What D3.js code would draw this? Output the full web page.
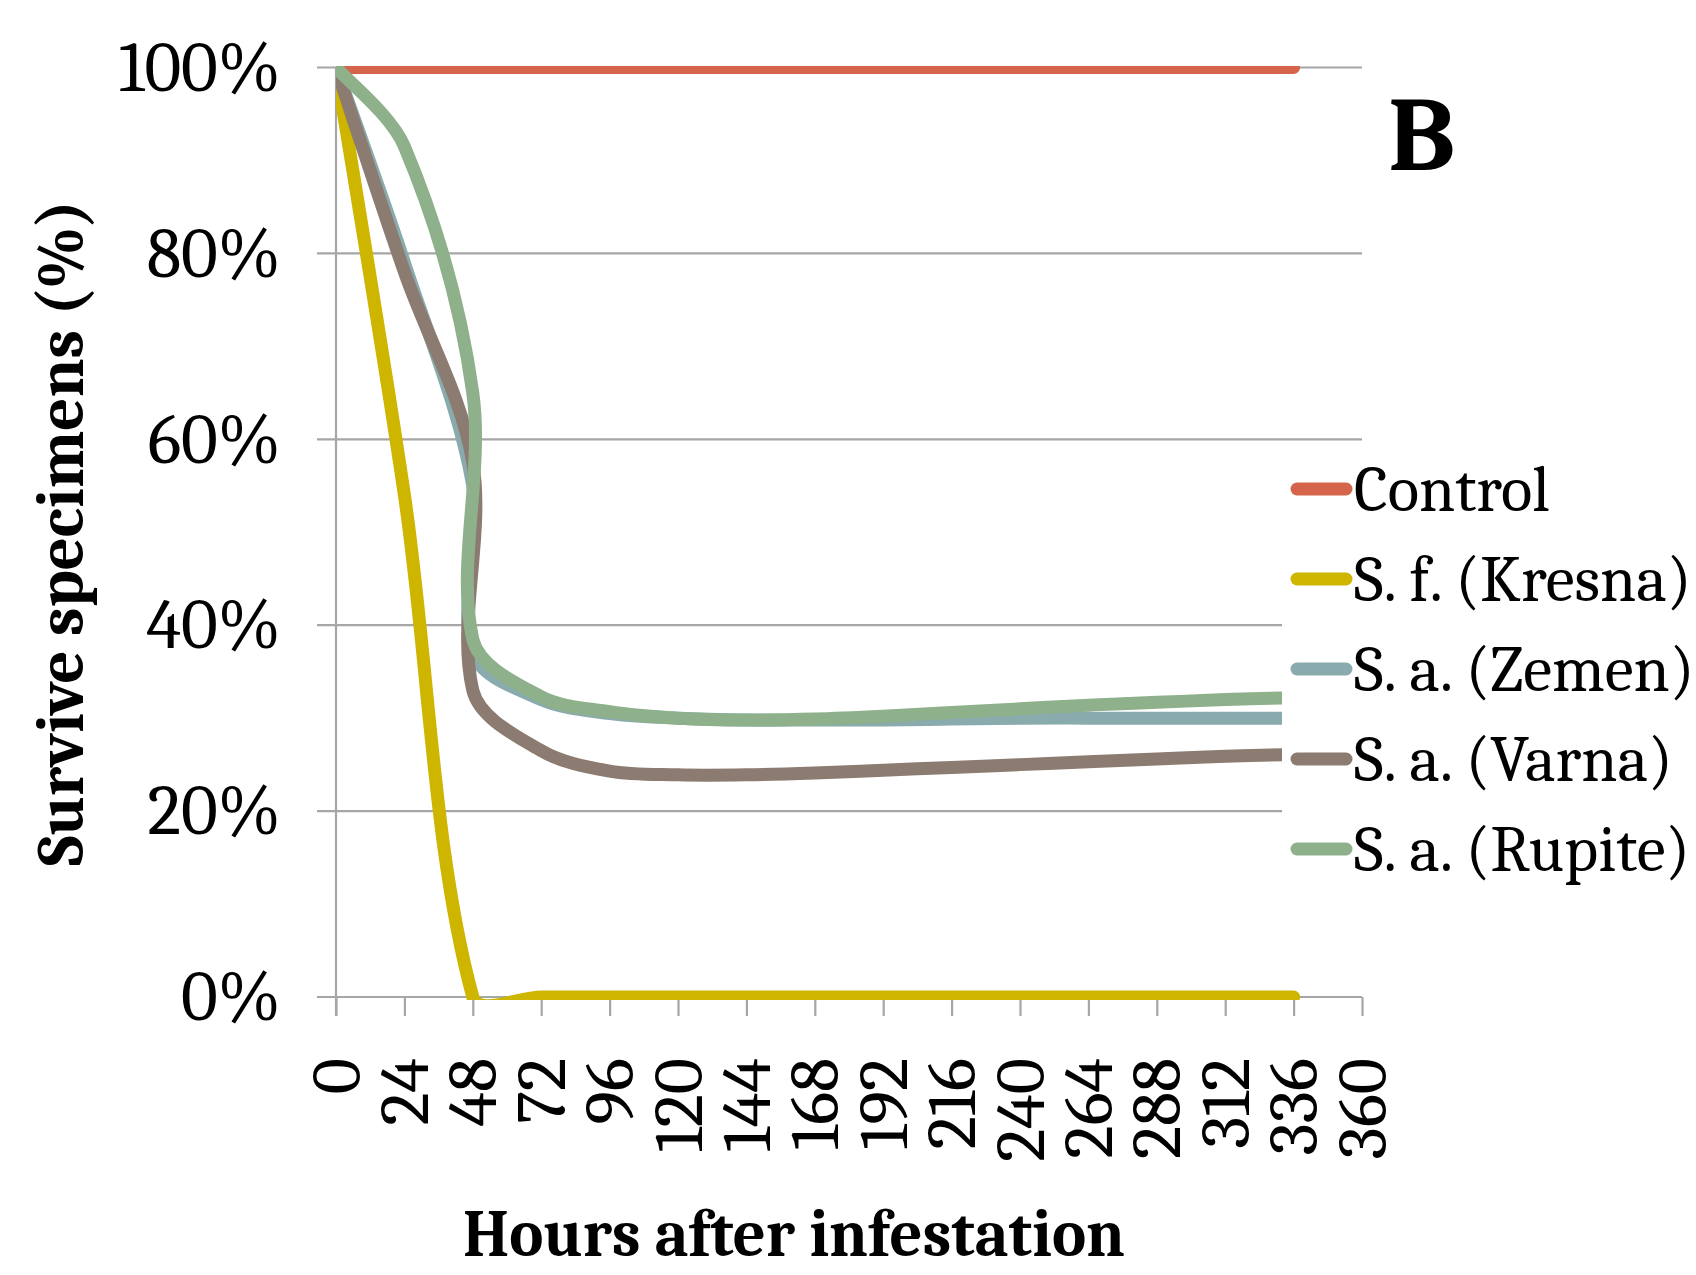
<!DOCTYPE html>
<html>
<head>
<meta charset="utf-8">
<script src="https://cdn.jsdelivr.net/npm/d3@7"></script>
<style>
  html, body { margin: 0; padding: 0; background: #fff; }
  svg { display: block; }
  text { font-family: Cambria, "Liberation Serif", "DejaVu Serif", serif; fill: #000; }
</style>
</head>
<body>
<div id="chart"></div>
<script>
// ------- data -------
const xTicks = [0, 24, 48, 72, 96, 120, 144, 168, 192, 216, 240, 264, 288, 312, 336, 360];
const yTicks = [0, 20, 40, 60, 80, 100];

const hours   = [0, 24, 48, 72, 96, 120, 144, 168, 192, 216, 240, 264, 288, 312, 336];
const control = [100, 100, 100, 100, 100, 100, 100, 100, 100, 100, 100, 100, 100, 100, 100];
const kresna  = [100, 54, 0, 0, 0, 0, 0, 0, 0, 0, 0, 0, 0, 0, 0];

// the S. a. series have two readings at 48 h
const hoursSa = [0, 24, 48, 48, 72, 96, 120, 144, 168, 192, 216, 240, 264, 288, 312, 336];
const zemen   = [100, 79, 55, 37, 32, 30.5, 30, 29.8, 29.8, 29.8, 29.9, 30, 30, 30, 30, 30];
const varna   = [100, 78, 57.5, 33, 26.5, 24.3, 23.9, 23.9, 24.1, 24.4, 24.7, 25.0, 25.3, 25.6, 25.9, 26.1];
const rupite  = [100, 91.5, 65, 38.5, 32.3, 30.7, 30.0, 29.8, 29.9, 30.2, 30.6, 31.0, 31.4, 31.7, 32.0, 32.2];

const seriesNames = ["Control", "S. f. (Kresna)", "S. a. (Zemen)", "S. a. (Varna)", "S. a. (Rupite)"];
const seriesColors = ["#d5654a", "#cdb500", "#8aabae", "#8c7b70", "#8eb08b"];

const series = [
  { name: seriesNames[0], xs: hours, ys: control, color: seriesColors[0] },
  { name: seriesNames[1], xs: hours, ys: kresna, color: seriesColors[1] },
  { name: seriesNames[2], xs: hoursSa, ys: zemen, color: seriesColors[2] },
  { name: seriesNames[3], xs: hoursSa, ys: varna, color: seriesColors[3] },
  { name: seriesNames[4], xs: hoursSa, ys: rupite, color: seriesColors[4] }
];

// ------- layout -------
const W = 1696, H = 1275;
const GRID = "#a6a6a6";

const x = d3.scaleLinear().domain([0, 360]).range([336, 1362]);
const y = d3.scaleLinear().domain([0, 100]).range([997, 67.5]);

const svg = d3.select("#chart").append("svg")
  .attr("width", W).attr("height", H)
  .attr("viewBox", `0 0 ${W} ${H}`);

svg.append("rect").attr("width", W).attr("height", H).attr("fill", "#fff");

// gridlines (incl. outward ticks on the left)
svg.append("g")
  .selectAll("line")
  .data(yTicks)
  .join("line")
  .attr("x1", x(0) - 19).attr("x2", x(360))
  .attr("y1", d => y(d)).attr("y2", d => y(d))
  .attr("stroke", GRID).attr("stroke-width", 2.2);

// y axis labels
svg.append("g")
  .attr("transform", `translate(${x(0)},0)`)
  .call(d3.axisLeft(y).tickValues(yTicks).tickFormat(d => d + "%").tickSize(0).tickPadding(55))
  .call(g => g.select(".domain").remove())
  .call(g => g.selectAll("text")
    .attr("font-family", null)
    .style("font-size", "71px")
    .attr("fill", "#000"));

// y axis line
svg.append("line")
  .attr("x1", x(0)).attr("x2", x(0))
  .attr("y1", y(100)).attr("y2", y(0) + 19)
  .attr("stroke", GRID).attr("stroke-width", 2.2);

// x axis ticks + rotated labels
svg.append("g")
  .attr("transform", `translate(0,${y(0)})`)
  .call(d3.axisBottom(x).tickValues(xTicks).tickSize(19).tickSizeOuter(0))
  .call(g => g.select(".domain").remove())
  .call(g => g.selectAll("line").attr("stroke", GRID).attr("stroke-width", 2.2))
  .call(g => g.selectAll("text")
    .attr("font-family", null)
    .style("font-size", "70px")
    .attr("fill", "#000")
    .attr("transform", "rotate(-90)")
    .attr("text-anchor", "end")
    .attr("x", -61)
    .attr("y", 0)
    .attr("dy", "0.33em"));

// ------- lines -------
svg.append("defs").append("clipPath").attr("id", "plotClip")
  .append("rect")
  .attr("x", x(0)).attr("y", 66)
  .attr("width", 1100).attr("height", 1000 - 66);

// smoothed line: bezier segments, tangents weighted by chord length
const dist = (a, b) => Math.hypot(b[0] - a[0], b[1] - a[1]);
const curveSmooth = (context) => {
  let pts = [];
  return {
    areaStart() {}, areaEnd() {},
    lineStart() { pts = []; },
    point(px, py) { pts.push([+px, +py]); },
    lineEnd() {
      const n = pts.length;
      if (!n) return;
      context.moveTo(pts[0][0], pts[0][1]);
      for (let i = 0; i < n - 1; i++) {
        const p0 = pts[Math.max(i - 1, 0)], p1 = pts[i], p2 = pts[i + 1], p3 = pts[Math.min(i + 2, n - 1)];
        const d01 = dist(p0, p1), d12 = dist(p1, p2), d23 = dist(p2, p3);
        const f1 = i === 0 ? 1 / 6 : (d01 + d12 ? d12 / (d01 + d12) / 3 : 0);
        const f2 = i + 2 > n - 1 ? 1 / 6 : (d12 + d23 ? d12 / (d12 + d23) / 3 : 0);
        context.bezierCurveTo(
          p1[0] + (p2[0] - p0[0]) * f1, p1[1] + (p2[1] - p0[1]) * f1,
          p2[0] - (p3[0] - p1[0]) * f2, p2[1] - (p3[1] - p1[1]) * f2,
          p2[0], p2[1]);
      }
    }
  };
};

const line = d3.line()
  .x(d => x(d[0]))
  .y(d => y(d[1]))
  .curve(curveSmooth);

const plot = svg.append("g").attr("clip-path", "url(#plotClip)");

series.forEach(s => {
  const pts = s.xs.map((h, i) => [h, s.ys[i]]);
  plot.append("path")
    .datum(pts)
    .attr("d", line)
    .attr("fill", "none")
    .attr("stroke", s.color)
    .attr("stroke-width", 13)
    .attr("stroke-linecap", "round")
    .attr("stroke-linejoin", "round");
});

// ------- legend (sits over the plot area) -------
const legend = svg.append("g");
legend.append("rect")
  .attr("x", 1282).attr("y", 446)
  .attr("width", W - 1282).attr("height", 446)
  .attr("fill", "#fff");

const legY = d3.scalePoint().domain(seriesNames).range([489, 849]);

const item = legend.selectAll("g.item")
  .data(series)
  .join("g")
  .attr("class", "item")
  .attr("transform", d => `translate(0,${legY(d.name)})`);

item.append("line")
  .attr("x1", 1297).attr("x2", 1346)
  .attr("y1", 0).attr("y2", 0)
  .attr("stroke", d => d.color)
  .attr("stroke-width", 13)
  .attr("stroke-linecap", "round");

item.append("text")
  .attr("x", 1354)
  .attr("y", 22)
  .style("font-size", "65px")
  .text(d => d.name);

// ------- titles -------
svg.append("text")
  .attr("transform", "translate(83,533) rotate(-90)")
  .attr("text-anchor", "middle")
  .attr("textLength", 666)
  .attr("lengthAdjust", "spacingAndGlyphs")
  .style("font-size", "67px")
  .style("font-weight", "bold")
  .text("Survive specimens (%)");

svg.append("text")
  .attr("x", 794).attr("y", 1256)
  .attr("text-anchor", "middle")
  .attr("textLength", 662)
  .attr("lengthAdjust", "spacingAndGlyphs")
  .style("font-size", "66px")
  .style("font-weight", "bold")
  .text("Hours after infestation");

svg.append("text")
  .attr("x", 1388).attr("y", 170)
  .style("font-size", "106px")
  .style("font-weight", "bold")
  .text("B");
</script>
</body>
</html>
